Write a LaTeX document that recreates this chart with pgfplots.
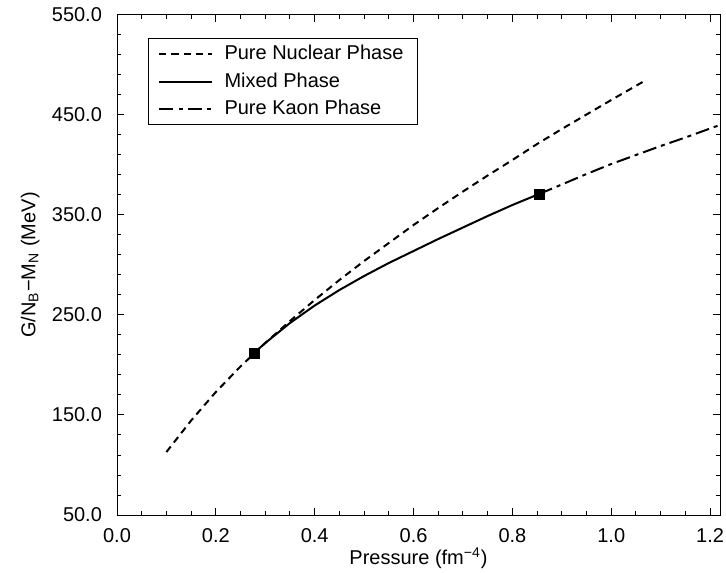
\documentclass[border=0pt]{standalone}
\usepackage{fontspec}
\setmainfont{Liberation Sans}
\usepackage{pgfplots}
\pgfplotsset{compat=1.18}
\begin{document}
\fontsize{10}{12}\selectfont
\begin{tikzpicture}
\useasboundingbox (-58.5pt,-28.5pt) rectangle (304.5pt,257.5pt);
\begin{axis}[
  scale only axis, width=301.5pt, height=250pt,
  xmin=0, xmax=1.22, ymin=50, ymax=550,
  xtick={0,0.2,0.4,0.6,0.8,1.0,1.2},
  ytick={50,150,250,350,450,550},
  minor x tick num=3, minor y tick num=4,
  tick align=inside, major tick length=3.5pt, minor tick length=2pt,
  axis line style={line width=0.5pt},
  every tick/.style={line width=0.5pt, black},
  scaled ticks=false,
  /pgf/number format/assume math mode=true,
  xticklabel style={/pgf/number format/.cd, fixed, fixed zerofill, precision=1, /tikz/.cd, yshift=-3pt, font=\fontsize{10}{12}\selectfont},
  yticklabel style={/pgf/number format/.cd, fixed, fixed zerofill, precision=1, 1000 sep={}, /tikz/.cd, xshift=-4pt, font=\fontsize{10}{12}\selectfont},
  xlabel={Pressure (fm\textsuperscript{−4})},
  ylabel={G/N\textsubscript{B}−M\textsubscript{N} (MeV)},
  xlabel style={at={(axis description cs:0.5,-0.086)}, anchor=center, font=\fontsize{10}{12}\selectfont},
  ylabel style={at={(axis description cs:-0.144,0.5)}, anchor=center, font=\fontsize{10}{12}\selectfont},
  legend cell align=left,
  legend style={draw=black, line width=0.5pt, at={(0.0514,0.954)}, anchor=north west,
    font=\fontsize{10}{12}\selectfont, inner xsep=5pt, inner ysep=1.5pt, row sep=1pt, column sep=4pt},
  legend image code/.code={\draw[#1] (0pt,0pt) -- (26pt,0pt);},
]
\addplot[black, line width=1pt, dash pattern=on 3.5pt off 2.5pt] coordinates {
(0.10,113) (0.15,144.5) (0.20,173) (0.25,198.6) (0.30,222) (0.35,244) (0.40,265)
(0.45,285) (0.50,304) (0.55,322) (0.60,340) (0.65,357) (0.70,373.5) (0.75,389.5)
(0.80,405) (0.85,421) (0.90,436) (0.95,450.5) (1.00,465) (1.067,484)};
\addlegendentry{Pure Nuclear Phase}
\addplot[black, line width=1pt] coordinates {
(0.277,212) (0.30,222) (0.35,242) (0.40,259.5) (0.45,275) (0.50,289) (0.55,302)
(0.60,314) (0.65,326) (0.70,337.5) (0.75,349) (0.80,360) (0.854,371)};
\addlegendentry{Mixed Phase}
\addplot[black, line width=1pt, dash pattern=on 7pt off 2.5pt on 2pt off 2.5pt] coordinates {
(0.854,371) (0.90,380.5) (0.95,391) (1.00,401) (1.05,410) (1.10,419) (1.15,427.5)
(1.20,436.5) (1.22,440)};
\addlegendentry{Pure Kaon Phase}
\addplot[only marks, mark=square*, mark size=2.5pt, black, forget plot] coordinates {
(0.277,212) (0.854,371)};
\end{axis}
\end{tikzpicture}
\end{document}
